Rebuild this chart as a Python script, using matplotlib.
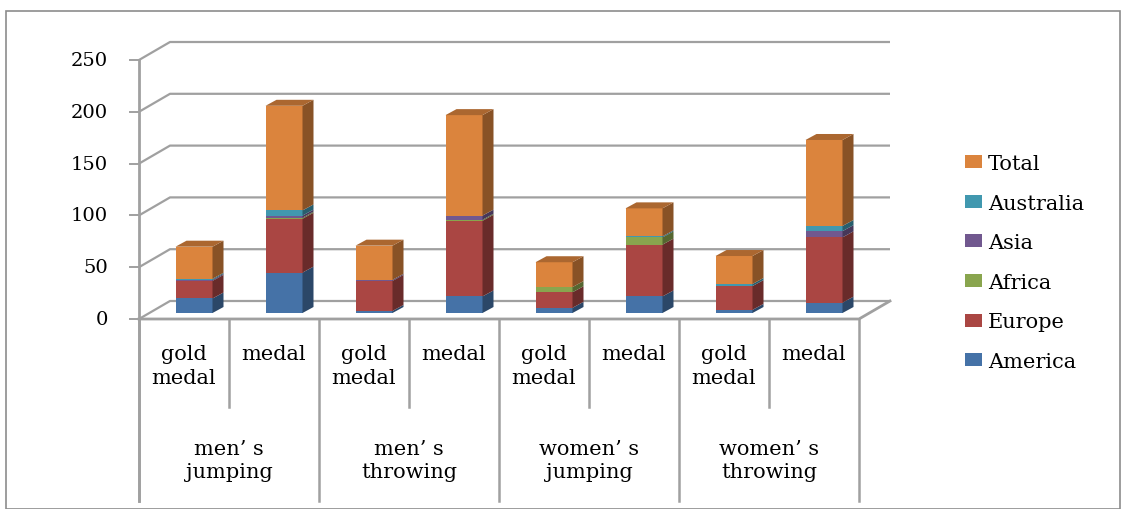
import matplotlib
matplotlib.use("Agg")
import matplotlib.pyplot as plt
from matplotlib.patches import Polygon, Rectangle
import matplotlib.colors as mcolors
import numpy as np

# ---- data ----
sub_labels = ["gold\nmedal", "medal", "gold\nmedal", "medal",
              "gold\nmedal", "medal", "gold\nmedal", "medal"]
group_labels = ["men’ s\njumping", "men’ s\nthrowing",
                "women’ s\njumping", "women’ s\nthrowing"]
series_names = ["America", "Europe", "Africa", "Asia", "Australia", "Total"]
America   = [14, 39, 2, 16, 5, 16, 3, 10]
Europe    = [17, 52, 29, 73, 15, 50, 23, 63]
Africa    = [0, 1, 0, 1, 5, 7, 0, 0]
Asia      = [1, 2, 1, 4, 0, 0, 0, 6]
Australia = [1, 5, 0, 0, 0, 1, 2, 5]
Total     = [31, 101, 33, 97, 24, 27, 27, 83]
yticks = [0, 50, 100, 150, 200, 250]

series = [America, Europe, Africa, Asia, Australia, Total]
colors = ["#4572A7", "#AA4643", "#89A54E", "#71588F", "#4198AF", "#DB843D"]

plt.rcParams['font.family'] = ['DejaVu Serif']
FS_TICK = 14
FS = 15

W, H = 1122, 510
fig = plt.figure(figsize=(W / 100, H / 100), dpi=100)
ax = fig.add_axes([0, 0, 1, 1])

# pixel <-> data mapping (layout only)
X0, PXC = 139.0, 90.0
Y0, PPV = 320.0, 1.036
def xd(px):
    return (px - X0) / PXC
def vd(py):
    return (Y0 - py) / PPV

ax.set_xlim(xd(0), xd(W))
ax.set_ylim(vd(H), vd(0))
ax.axis('off')

n = len(sub_labels)
GRID = "#A0A0A0"
DDX, DDV = 31 / PXC, 18 / PPV          # full depth of walls
BOX, BOV = 10 / PXC, 6 / PPV           # bar front-face offset
SDX, SDV = 11 / PXC, 6 / PPV           # bar depth
BW = 37 / PXC

# back wall gridlines + left wall diagonals
for t in yticks:
    ax.plot([0, DDX, n + DDX], [t, t + DDV, t + DDV], color=GRID, lw=1.6,
            zorder=1, solid_capstyle='butt')
    ax.plot([xd(130), 0], [t, t], color=GRID, lw=1.4, zorder=1)
    ax.text(xd(108), t, str(t), ha='right', va='center', fontsize=FS_TICK,
            color='black')
# vertical axis
ax.plot([0, 0], [vd(502), yticks[-1]], color=GRID, lw=2, zorder=1)
# floor front edge and right diagonal
ax.plot([0, n, n + DDX], [0, 0, DDV], color=GRID, lw=2, zorder=1)

# category table lines
for i in range(n + 1):
    bottom = vd(502) if i % 2 == 0 else vd(408)
    ax.plot([i, i], [0, bottom], color=GRID, lw=1.8, zorder=1)

for i, lab in enumerate(sub_labels):
    ax.text(i + 0.5, vd(345), lab, ha='center', va='top', fontsize=FS,
            linespacing=1.3)
for g, lab in enumerate(group_labels):
    ax.text(2 * g + 1, vd(461), lab, ha='center', va='center', fontsize=FS,
            linespacing=1.3)

# bars
xs = np.arange(n) + 0.5 + BOX
cum = np.zeros(n)
handles = []
for vals, col, name in zip(series, colors, series_names):
    vals = np.array(vals, dtype=float)
    bars = ax.bar(xs, vals, BW, bottom=cum + BOV, color=col, label=name,
                  zorder=3, linewidth=0)
    handles.append(bars)
    side = np.array(mcolors.to_rgb(col)) * 0.62
    for x, b, h in zip(xs, cum + BOV, vals):
        if h <= 0:
            continue
        r = x + BW / 2
        ax.add_patch(Polygon([(r, b), (r + SDX, b + SDV),
                              (r + SDX, b + h + SDV), (r, b + h)],
                             closed=True, facecolor=side, edgecolor='none',
                             zorder=3))
    cum = cum + vals

# top faces
top_col = np.array(mcolors.to_rgb(colors[-1])) * 0.78
for x, t in zip(xs, cum + BOV):
    l, r = x - BW / 2, x + BW / 2
    ax.add_patch(Polygon([(l, t), (r, t), (r + SDX, t + SDV), (l + SDX, t + SDV)],
                         closed=True, facecolor=top_col, edgecolor='none',
                         zorder=3))

# legend
leg = ax.legend(handles[::-1], series_names[::-1], loc='upper left',
                bbox_to_anchor=(965 / W, 1 - 155 / H),
                bbox_transform=fig.transFigure, frameon=False, borderpad=0,
                borderaxespad=0, handlelength=0.8, handleheight=0.58,
                handletextpad=0.3, labelspacing=0.99, fontsize=FS)

# outer frame
fig.patches.append(Rectangle((6 / W, 0.5 / H), (W - 8) / W, (H - 12) / H,
                             transform=fig.transFigure, fill=False,
                             edgecolor="#8C8C8C", lw=1.2))

fig.savefig("out.png", dpi=100)
